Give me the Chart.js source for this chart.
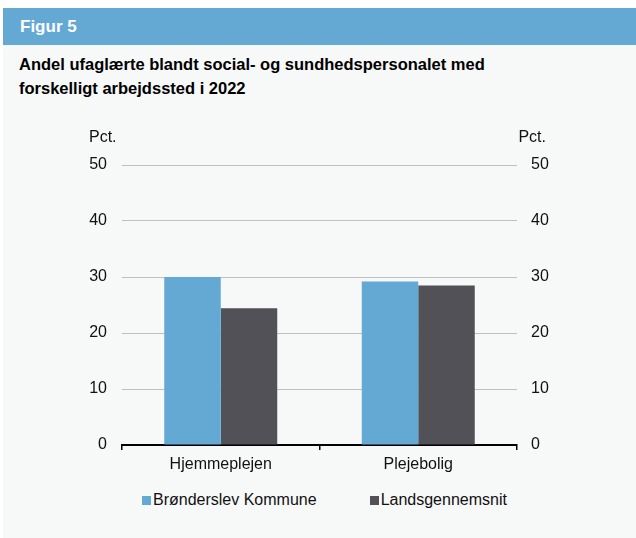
<!DOCTYPE html>
<html>
<head>
<meta charset="utf-8">
<script src="https://cdn.jsdelivr.net/npm/chart.js@4.4.1/dist/chart.umd.min.js"></script>
<style>
  body { margin: 0; background: #ffffff; font-family: "Liberation Sans", Arial, sans-serif; }
  #head { position: absolute; left: 3px; top: 8px; width: 633px; height: 37px; background: #63a9d4;
          color: #fff; font-weight: bold; font-size: 17px; line-height: 37px; }
  #head span { position: absolute; left: 17px; }
  #panel { position: absolute; left: 3px; top: 45px; width: 633px; height: 493px; background: #f7f8f8; }
  #title { position: absolute; left: 19px; top: 52px; font-weight: bold; font-size: 16.5px; line-height: 24px; color: #000; }
  #chart { position: absolute; left: 3px; top: 120px; }
  #legend { position: absolute; left: 142px; top: 490px; font-size: 16px; line-height: 20px; color: #111; display: flex; }
  .item { display: flex; align-items: center; }
  .box { width: 9px; height: 9px; margin-right: 2px; }
</style>
</head>
<body>
<div id="head"><span>Figur 5</span></div>
<div id="panel"></div>
<div id="title">Andel ufaglærte blandt social- og sundhedspersonalet med<br>forskelligt arbejdssted i 2022</div>
<canvas id="chart" width="633" height="355"></canvas>
<div id="legend"></div>
<script>
var categories = ['Hjemmeplejen', 'Plejebolig'];
var seriesNames = ['Brønderslev Kommune', 'Landsgennemsnit'];
var broenderslev = [30.0, 29.2];
var landsgennemsnit = [24.4, 28.5];
var seriesColors = ['#63a9d4', '#515157'];
var yTicks = [0, 10, 20, 30, 40, 50];

var textColor = '#111111';
var tickFont = { family: '"Liberation Sans", Arial, sans-serif', size: 16 };

// "Pct." over both value axes
var pctLabels = {
    id: 'pctLabels',
    afterDraw: function (chart) {
        var ctx = chart.ctx;
        var area = chart.chartArea;
        ctx.save();
        ctx.font = '16px "Liberation Sans", Arial, sans-serif';
        ctx.fillStyle = textColor;
        ctx.textBaseline = 'middle';
        ctx.textAlign = 'left';
        ctx.fillText('Pct.', area.left - 33, 18);
        ctx.textAlign = 'right';
        ctx.fillText('Pct.', area.right + 29, 18);
        ctx.restore();
    }
};

var ctx = document.getElementById('chart').getContext('2d');
new Chart(ctx, {
    type: 'bar',
    data: {
        labels: categories,
        datasets: [{
            label: seriesNames[0],
            data: broenderslev,
            backgroundColor: seriesColors[0],
            yAxisID: 'y'
        }, {
            label: seriesNames[1],
            data: landsgennemsnit,
            backgroundColor: seriesColors[1],
            yAxisID: 'y'
        }]
    },
    options: {
        responsive: false,
        animation: false,
        layout: { padding: { top: 45, bottom: 0, left: 0, right: 0 } },
        datasets: {
            bar: { barPercentage: 1, categoryPercentage: 0.572 }
        },
        plugins: {
            legend: { display: false },
            tooltip: { enabled: false }
        },
        scales: {
            x: {
                grid: { offset: true, drawOnChartArea: false, drawTicks: true, tickLength: 5, color: '#000', lineWidth: 1.5 },
                border: { display: true, color: '#000', width: 2 },
                ticks: { color: textColor, font: tickFont, padding: 5 },
                afterFit: function (scale) { scale.height = 30; }
            },
            y: {
                position: 'left',
                min: 0,
                max: 50,
                afterBuildTicks: function (scale) {
                    scale.ticks = yTicks.map(function (v) { return { value: v }; });
                },
                grid: { color: '#c0c0c0', lineWidth: 1, drawTicks: false },
                border: { display: false },
                ticks: { color: textColor, font: tickFont, padding: 15 },
                afterFit: function (scale) { scale.width = 119; }
            },
            y2: {
                position: 'right',
                min: 0,
                max: 50,
                afterBuildTicks: function (scale) {
                    scale.ticks = yTicks.map(function (v) { return { value: v }; });
                },
                grid: { display: false, drawTicks: false },
                border: { display: false },
                ticks: { color: textColor, font: tickFont, padding: 14 },
                afterFit: function (scale) { scale.width = 119; }
            }
        }
    },
    plugins: [pctLabels]
});

// legend below the chart
var legend = document.getElementById('legend');
seriesNames.forEach(function (name, i) {
    var item = document.createElement('div');
    item.className = 'item';
    if (i > 0) item.style.marginLeft = '53px';
    var box = document.createElement('div');
    box.className = 'box';
    box.style.background = seriesColors[i];
    var txt = document.createElement('span');
    txt.textContent = name;
    item.appendChild(box);
    item.appendChild(txt);
    legend.appendChild(item);
});
</script>
</body>
</html>
